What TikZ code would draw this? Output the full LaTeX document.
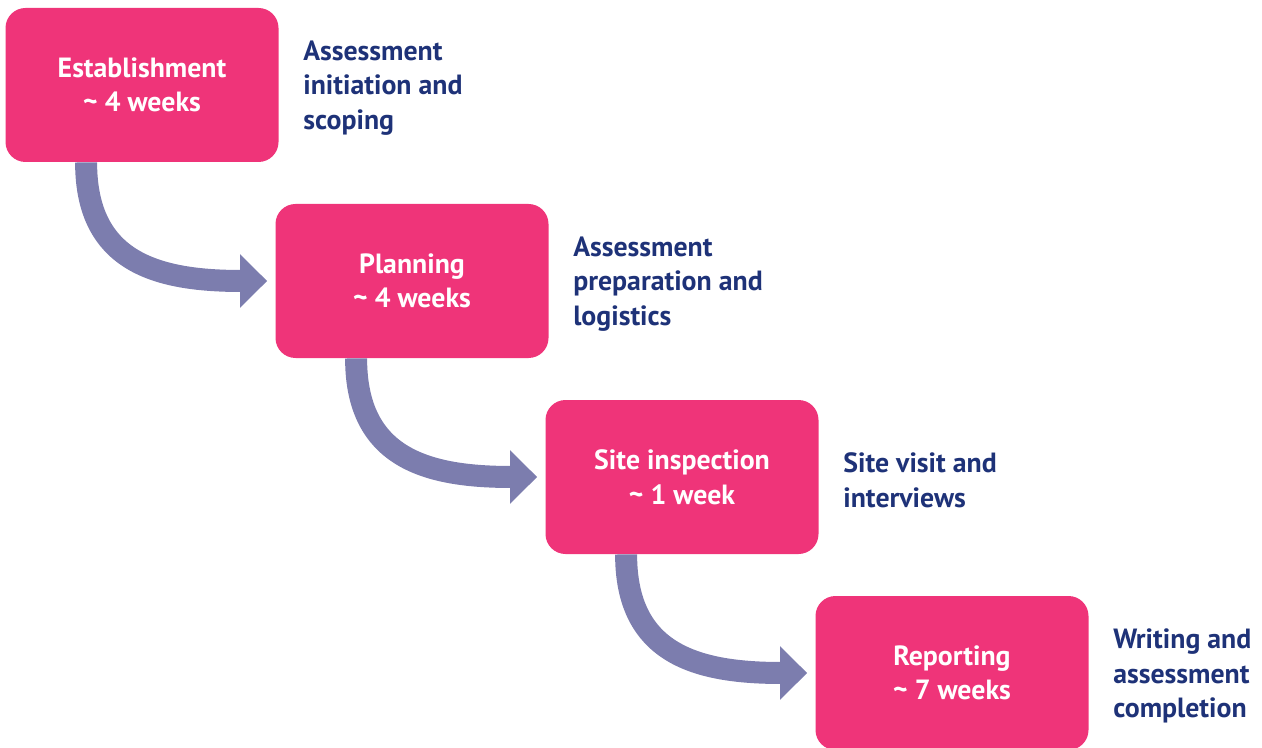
\documentclass[tikz,border=0pt]{standalone}
\usepackage{fontspec}
\setmainfont{PT Sans}
\usetikzlibrary{positioning,calc,arrows.meta}
\definecolor{stagepink}{HTML}{EF3479}
\definecolor{flowgray}{HTML}{7C7DAE}
\definecolor{descblue}{HTML}{1E3278}
\begin{document}
\begin{tikzpicture}[x=0.5pt, y=-0.5pt, font=\fontsize{13.9}{17.3}\selectfont\bfseries,
		stage/.style={rectangle,rounded corners=10pt,fill=stagepink,text=white,
			minimum width=136.5pt,minimum height=77pt,align=center},
		desc/.style={text=descblue,align=left,inner sep=0pt},
		flow/.style={line width=11pt,color=flowgray,
			-{Triangle[length=13.5pt,width=26pt]}}]
		\useasboundingbox (0,0) rectangle (1262,748);
		% stages on a staircase
		\foreach \t/\d [count=\p] in {Establishment/4 weeks,Planning/4 weeks,Site inspection/1 week,Reporting/7 weeks} {
			\node[stage] (s\p) at (\p*270-128, \p*196-111) {\t\\\textasciitilde\ \d};
		};
		% descriptions
		\node[desc, right=12pt of s1, yshift=-1.5pt] (d1) {Assessment\\initiation and\\scoping};
		\node[desc, right=12pt of s2, yshift=-1.5pt] (d2) {Assessment\\preparation and\\logistics};
		\node[desc, right=12pt of s3, yshift=-1.5pt] (d3) {Site visit and\\interviews};
		\node[desc, right=12pt of s4, yshift=-1.5pt] (d4) {Writing and\\assessment\\completion};
		% curved arrows
		\foreach \p [evaluate=\p as \q using int(\p+1)] in {1,2,3} {
			\draw[flow] ($(s\p.south west)+(81,0)$) .. controls +(0,100) and +(-110,0) .. ($(s\q.west)+(-8,0)$);
		};
\end{tikzpicture}
\end{document}
